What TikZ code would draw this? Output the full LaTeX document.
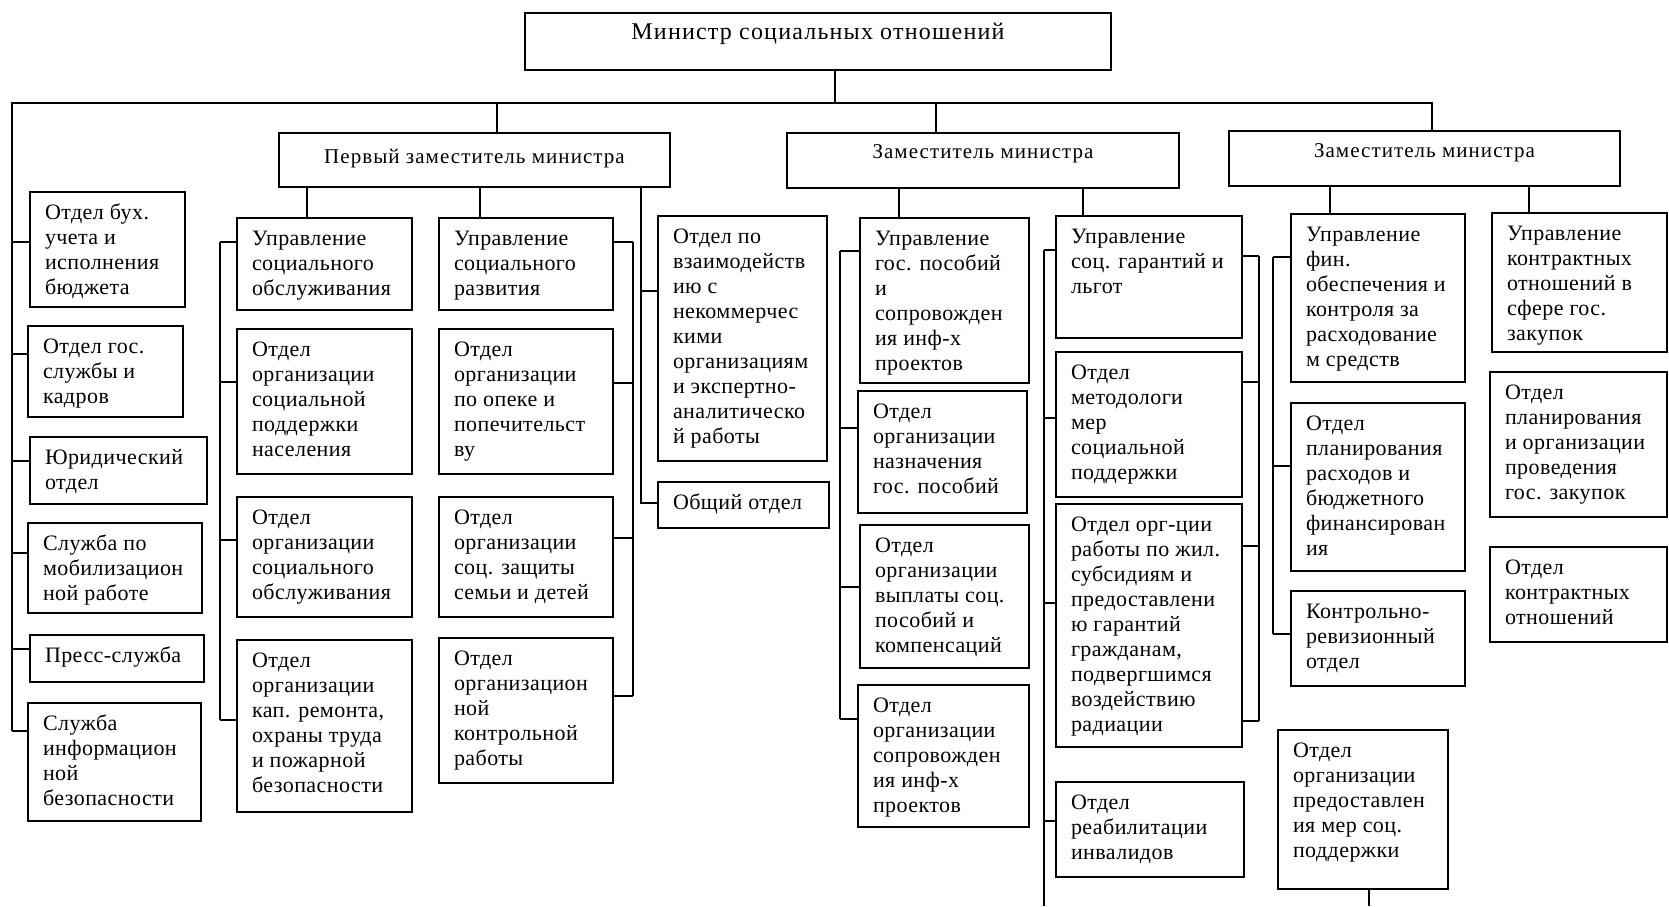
\documentclass[tikz,border=0pt]{standalone}
\usepackage{fontspec}
\setmainfont{Liberation Serif}
\newfontfamily\bodyfont[LetterSpace=2]{Liberation Serif}
\newfontfamily\deputyfont[LetterSpace=5]{Liberation Serif}
\newfontfamily\ministerfont[LetterSpace=5]{Liberation Serif}
\tikzset{
  boxline/.style={draw=black, line width=0.9pt},
  conn/.style={draw=black, line width=0.9pt},
}
\newcommand\obox[6]{%
  \pgfmathsetmacro\obw{(#4-#2)*0.5-15}%
  \pgfmathsetmacro\obh{(#5-#3)*0.5-10}%
  \node[boxline, anchor=north west, inner xsep=7.5pt, inner ysep=5pt, outer sep=0pt] (#1) at (#2,#3)
    {\parbox[c][\obh pt][t]{\obw pt}{\raggedright\bodyfont\fontsize{11}{12.5}\selectfont\strut #6}};%
}
\newcommand\headbox[8]{%
  \pgfmathsetmacro\obw{(#4-#2)*0.5}%
  \pgfmathsetmacro\obh{(#5-#3)*0.5}%
  \node[boxline, anchor=north west, inner sep=0pt, outer sep=0pt, minimum width=\obw pt, minimum height=\obh pt] (#1) at (#2,#3) {};%
  \node[anchor=base, inner sep=0pt, font=#8] (#1-t) at (#1.north |- 0,#7) {#6};%
}
\begin{document}
\begin{tikzpicture}[x=0.5pt, y=-0.5pt]
\useasboundingbox (0,0) rectangle (1669,906);
% headers
\headbox{min}{525}{13}{1111}{70}{Министр социальных отношений}{39}{\ministerfont\fontsize{12}{14}\selectfont}
\headbox{fd}{279}{133}{670}{187}{Первый заместитель министра}{163}{\deputyfont\fontsize{10.5}{12}\selectfont}
\headbox{zA}{787}{133}{1179}{188}{Заместитель министра}{158}{\deputyfont\fontsize{10.5}{12}\selectfont}
\headbox{zB}{1229}{131}{1620}{186}{Заместитель министра}{157}{\deputyfont\fontsize{10.5}{12}\selectfont}
% left column
\obox{buh}{30}{192}{185}{307}{Отдел бух.\\учета и\\исполнения\\бюджета}
\obox{kad}{28}{326}{183}{417}{Отдел гос.\\службы и\\кадров}
\obox{jur}{30}{437}{207}{504}{Юридический\\отдел}
\obox{mob}{28}{523}{202}{613}{Служба по\\мобилизацион\\ной работе}
\obox{prs}{30}{635}{204}{682}{Пресс-служба}
\obox{inf}{28}{703}{201}{821}{Служба\\информацион\\ной\\безопасности}
% first deputy col 1
\obox{uso}{237}{218}{412}{310}{Управление\\социального\\обслуживания}
\obox{osp}{237}{329}{412}{474}{Отдел\\организации\\социальной\\поддержки\\населения}
\obox{oso}{237}{497}{412}{617}{Отдел\\организации\\социального\\обслуживания}
\obox{okr}{237}{640}{412}{812}{Отдел\\организации\\кап. ремонта,\\охраны труда\\и пожарной\\безопасности}
% col 2
\obox{usr}{439}{218}{613}{310}{Управление\\социального\\развития}
\obox{oop}{439}{329}{613}{474}{Отдел\\организации\\по опеке и\\попечительст\\ву}
\obox{osz}{439}{497}{613}{617}{Отдел\\организации\\соц. защиты\\семьи и детей}
\obox{ook}{439}{638}{613}{783}{Отдел\\организацион\\ной\\контрольной\\работы}
% col 3
\obox{vzm}{658}{216}{827}{461}{Отдел по\\взаимодейств\\ию с\\некоммерчес\\кими\\организациям\\и экспертно-\\аналитическо\\й работы}
\obox{obs}{658}{482}{829}{528}{Общий отдел}
% second deputy col 1
\obox{ugp}{860}{218}{1029}{383}{Управление\\гос. пособий\\и\\сопровожден\\ия инф-х\\проектов}
\obox{onz}{858}{391}{1027}{513}{Отдел\\организации\\назначения\\гос. пособий}
\obox{ovs}{860}{525}{1029}{668}{Отдел\\организации\\выплаты соц.\\пособий и\\компенсаций}
\obox{osi}{858}{685}{1029}{827}{Отдел\\организации\\сопровожден\\ия инф-х\\проектов}
% col 2
\obox{usg}{1056}{216}{1242}{338}{Управление\\соц. гарантий и\\льгот}
\obox{omt}{1056}{352}{1242}{497}{Отдел\\методологи\\мер\\социальной\\поддержки}
\obox{ozh}{1056}{504}{1242}{747}{Отдел орг-ции\\работы по жил.\\субсидиям и\\предоставлени\\ю гарантий\\гражданам,\\подвергшимся\\воздействию\\радиации}
\obox{ori}{1056}{782}{1244}{877}{Отдел\\реабилитации\\инвалидов}
% third deputy col 1
\obox{ufo}{1291}{214}{1465}{382}{Управление\\фин.\\обеспечения и\\контроля за\\расходование\\м средств}
\obox{opr}{1291}{403}{1465}{571}{Отдел\\планирования\\расходов и\\бюджетного\\финансирован\\ия}
\obox{okv}{1291}{591}{1465}{686}{Контрольно-\\ревизионный\\отдел}
\obox{opm}{1278}{730}{1448}{889}{Отдел\\организации\\предоставлен\\ия мер соц.\\поддержки}
% col 2
\obox{ukn}{1492}{213}{1667}{352}{Управление\\контрактных\\отношений в\\сфере гос.\\закупок}
\obox{opz}{1490}{372}{1667}{517}{Отдел\\планирования\\и организации\\проведения\\гос. закупок}
\obox{okn}{1490}{547}{1667}{642}{Отдел\\контрактных\\отношений}
% ---- connectors
\coordinate (busL) at (12,103);
\coordinate (busR) at (1432,103);
\coordinate (busM) at (835,103);
\draw[conn] (min.south -| busM) -- (busM);
\draw[conn] (busL |- 0,731) -- (busL) -- (busR) -- (zB.north -| busR);
\draw[conn] (busL -| 497,0) -- (fd.north -| 497,0);
\draw[conn] (busL -| 936,0) -- (zA.north -| 936,0);
% left column
\foreach \n/\yy in {buh/242,kad/354,jur/461,mob/553,prs/649,inf/731}
  \draw[conn] (busL |- 0,\yy) -- (\n.west |- 0,\yy);
% first deputy
\draw[conn] (fd.south -| 307,0) -- (uso.north -| 307,0);
\draw[conn] (fd.south -| 480,0) -- (usr.north -| 480,0);
\coordinate (c3) at (641,503);
\draw[conn] (fd.south -| c3) -- (c3) -- (obs.west |- c3);
\draw[conn] (c3 |- 0,291) -- (vzm.west |- 0,291);
\coordinate (bL1) at (220,242);
\draw[conn] (bL1) -- (bL1 |- 0,720);
\foreach \n/\yy in {uso/242,osp/382,oso/540,okr/720}
  \draw[conn] (bL1 |- 0,\yy) -- (\n.west |- 0,\yy);
\coordinate (bR2) at (633,242);
\draw[conn] (bR2) -- (bR2 |- 0,696);
\foreach \n/\yy in {usr/242,oop/383,osz/538,ook/696}
  \draw[conn] (bR2 |- 0,\yy) -- (\n.east |- 0,\yy);
% second deputy
\draw[conn] (zA.south -| 899,0) -- (ugp.north -| 899,0);
\draw[conn] (zA.south -| 1083,0) -- (usg.north -| 1083,0);
\coordinate (bL3) at (840,251);
\draw[conn] (bL3) -- (bL3 |- 0,719);
\foreach \n/\yy in {ugp/251,onz/428,ovs/587,osi/719}
  \draw[conn] (bL3 |- 0,\yy) -- (\n.west |- 0,\yy);
\coordinate (bL4) at (1044,250);
\draw[conn] (bL4) -- (bL4 |- 0,906);
\foreach \n/\yy in {usg/250,omt/418,ozh/603,ori/821}
  \draw[conn] (bL4 |- 0,\yy) -- (\n.west |- 0,\yy);
\coordinate (bR4) at (1259,256);
\draw[conn] (bR4) -- (bR4 |- 0,721);
\foreach \n/\yy in {usg/256,omt/382,ozh/546,ozh/721}
  \draw[conn] (bR4 |- 0,\yy) -- (\n.east |- 0,\yy);
% third deputy
\draw[conn] (zB.south -| 1330,0) -- (ufo.north -| 1330,0);
\draw[conn] (zB.south -| 1529,0) -- (ukn.north -| 1529,0);
\coordinate (bL5) at (1273,257);
\draw[conn] (bL5) -- (bL5 |- 0,634);
\foreach \n/\yy in {ufo/257,opr/466,okv/634}
  \draw[conn] (bL5 |- 0,\yy) -- (\n.west |- 0,\yy);
\draw[conn] (opm.south -| 1369,0) -- (1369,906);
\end{tikzpicture}
\end{document}
